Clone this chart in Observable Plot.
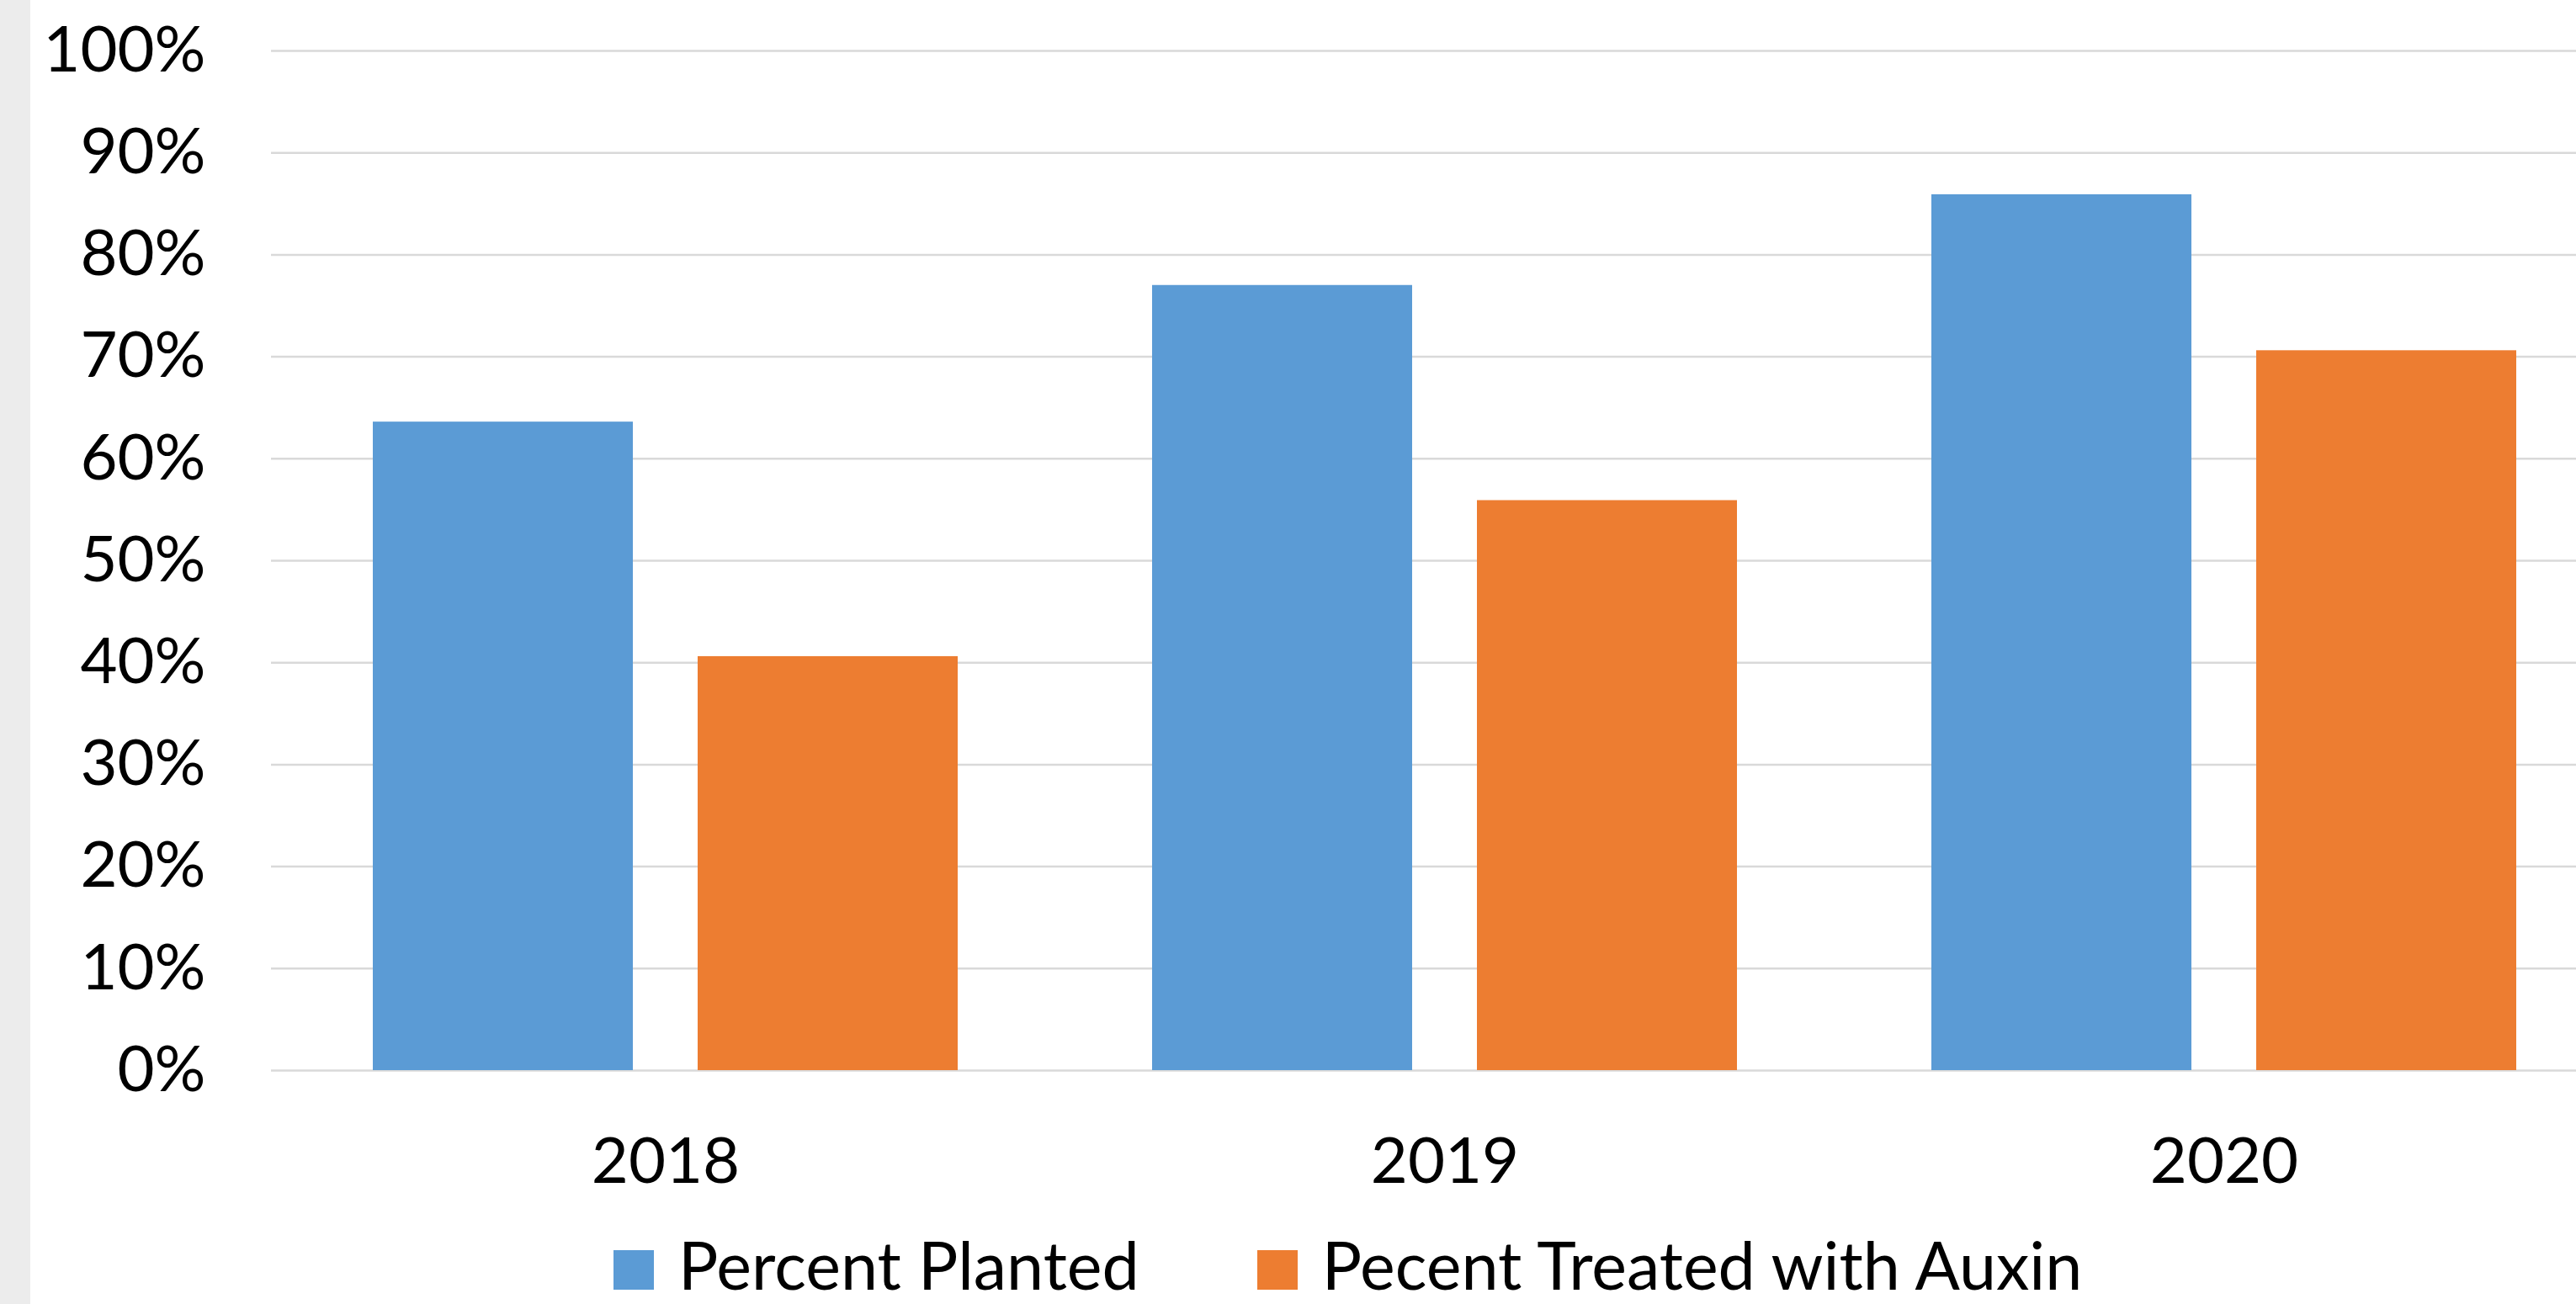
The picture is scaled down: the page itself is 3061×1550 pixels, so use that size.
<!DOCTYPE html>
<html><head><meta charset="utf-8">
<script src="https://cdn.jsdelivr.net/npm/d3@7"></script>
<script src="https://cdn.jsdelivr.net/npm/@observablehq/plot@0.6"></script>
<style>
html,body{margin:0;padding:0;background:#fff;overflow:hidden}
#wrap{position:relative;width:3061px;height:1550px;overflow:hidden;font-family:Lato,sans-serif}
#strip{position:absolute;left:0;top:0;width:36px;height:1550px;background:#ececec}
#chart{position:absolute;left:0;top:0}
#legend{position:absolute;left:729px;top:1463px;display:flex;align-items:flex-start;font-size:79px;line-height:1;color:#000;white-space:nowrap}
.item{display:flex;align-items:flex-start;margin-right:140px}
.sw{width:48px;height:47px;margin-right:29px;margin-top:23px}
</style></head>
<body><div id="wrap"><div id="strip"></div><div id="chart"></div><div id="legend"></div></div>
<script>
const years = ["2018", "2019", "2020"];
const seriesNames = ["Percent Planted", "Pecent Treated with Auxin"];
const planted = [63.6, 77.0, 85.9];
const treated = [40.6, 55.9, 70.6];
const seriesColors = ["#5B9BD5", "#ED7D31"];
const yTicks = [0, 10, 20, 30, 40, 50, 60, 70, 80, 90, 100];

const plantedRows = years.map((y, i) => ({year: y, value: planted[i]}));
const treatedRows = years.map((y, i) => ({year: y, value: treated[i]}));

const chart = Plot.plot({
  width: 3061,
  height: 1450,
  marginTop: 60,
  marginBottom: 178,
  marginLeft: 322,
  marginRight: 0,
  style: {fontFamily: "Lato, sans-serif", fontSize: "76px", color: "#000", background: "transparent"},
  x: {domain: years, range: [326, 3106], paddingInner: 0.25, paddingOuter: 0.125, tickSize: 0, tickPadding: 80, label: null},
  y: {domain: [0, 100], ticks: yTicks, tickFormat: d => d + "%", tickSize: 0, tickPadding: 78, label: null},
  marks: [
    Plot.ruleY(yTicks, {stroke: "#d9d9d9", strokeWidth: 2.5}),
    Plot.barY(plantedRows, {x: "year", y: "value", fill: seriesColors[0], insetRight: 386}),
    Plot.barY(treatedRows, {x: "year", y: "value", fill: seriesColors[1], insetLeft: 386})
  ]
});
document.getElementById("chart").appendChild(chart);

const legend = document.getElementById("legend");
seriesNames.forEach((name, i) => {
  const item = document.createElement("div");
  item.className = "item";
  const sw = document.createElement("div");
  sw.className = "sw";
  sw.style.background = seriesColors[i];
  const t = document.createElement("span");
  t.textContent = name;
  item.appendChild(sw);
  item.appendChild(t);
  legend.appendChild(item);
});
</script>
</body></html>
